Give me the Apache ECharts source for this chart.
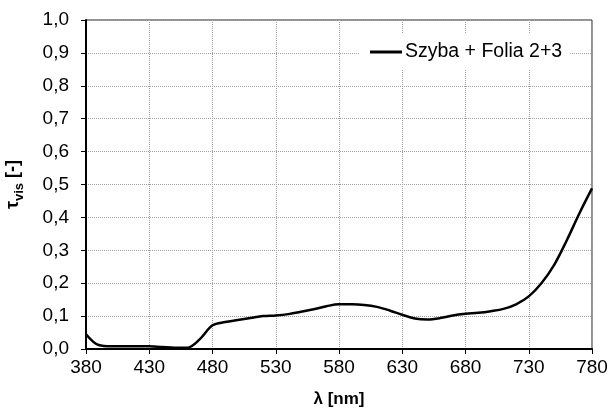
<!DOCTYPE html>
<html>
<head>
<meta charset="utf-8">
<script src="https://cdn.jsdelivr.net/npm/echarts@6/dist/echarts.min.js"></script>
<style>
  html, body { margin: 0; padding: 0; background: #fff; }
  #chart { width: 611px; height: 408px; }
</style>
</head>
<body>
<div id="chart"></div>
<script>
// Wavelength (nm) and visible transmittance of glass + film 2+3
const wavelengths = [380, 390, 400, 410, 420, 430, 440, 450, 460, 470,
                     480, 490, 500, 510, 520, 530, 540, 550, 560, 570,
                     580, 590, 600, 610, 620, 630, 640, 650, 660, 670,
                     680, 690, 700, 710, 720, 730, 740, 750, 760, 770, 780];
const transmittance = [0.045, 0.012, 0.008, 0.008, 0.008, 0.008, 0.006, 0.004, 0.004, 0.030,
                       0.072, 0.082, 0.088, 0.094, 0.100, 0.102, 0.106, 0.113, 0.121, 0.130,
                       0.136, 0.136, 0.134, 0.128, 0.117, 0.104, 0.093, 0.090, 0.094, 0.102,
                       0.107, 0.110, 0.115, 0.122, 0.136, 0.160, 0.200, 0.255, 0.330, 0.412, 0.488];
const seriesName = 'Szyba + Folia 2+3';
const xTicks = [380, 430, 480, 530, 580, 630, 680, 730, 780];
const yTicks = [0, 0.1, 0.2, 0.3, 0.4, 0.5, 0.6, 0.7, 0.8, 0.9, 1.0];

const FONT = "'Liberation Sans', Arial, sans-serif";
const chart = echarts.init(document.getElementById('chart'), null, { renderer: 'canvas' });

const gridLine = { show: true, lineStyle: { color: '#a0a0a0', type: [1, 1], width: 1 } };

chart.setOption({
  animation: false,
  backgroundColor: '#fff',
  grid: {
    left: 86, right: 19, top: 20, bottom: 59,
    containLabel: false,
    outerBoundsMode: 'none',
    show: true, borderColor: '#222', borderWidth: 1, backgroundColor: 'transparent'
  },
  legend: {
    data: [seriesName],
    left: 360, top: 34,
    padding: [8, 8, 8, 10],
    backgroundColor: '#fff',
    itemWidth: 32, itemHeight: 3, itemGap: 0,
    icon: 'rect',
    textStyle: { fontFamily: FONT, fontSize: 19.5, color: '#000', padding: [0, 0, 0, -2] }
  },
  xAxis: {
    type: 'value',
    min: xTicks[0], max: xTicks[xTicks.length - 1],
    interval: xTicks[1] - xTicks[0],
    name: 'λ [nm]',
    nameLocation: 'middle',
    nameGap: 42,
    nameTextStyle: { fontFamily: FONT, fontSize: 17, fontWeight: 'bold', color: '#000' },
    axisLine: { show: true, onZero: false, lineStyle: { color: '#000', width: 2 } },
    axisTick: { show: true, length: 5, lineStyle: { color: '#000', width: 1 } },
    axisLabel: { fontFamily: FONT, fontSize: 19, color: '#000', margin: 9 },
    splitLine: gridLine
  },
  yAxis: {
    type: 'value',
    min: yTicks[0], max: yTicks[yTicks.length - 1],
    interval: 0.1,
    name: '{t|τ}{s|vis}{t| [-]}',
    nameLocation: 'middle',
    nameRotate: 90,
    nameGap: 64,
    nameTextStyle: {
      rich: {
        t: { fontFamily: FONT, fontSize: 18, fontWeight: 'bold', color: '#000', verticalAlign: 'bottom', lineHeight: 20 },
        s: { fontFamily: FONT, fontSize: 13, fontWeight: 'bold', color: '#000', verticalAlign: 'bottom', lineHeight: 14, padding: [0, 0, -4, 0] }
      }
    },
    axisLine: { show: true, lineStyle: { color: '#000', width: 2 } },
    axisTick: { show: true, length: 5, lineStyle: { color: '#000', width: 1 } },
    axisLabel: {
      fontFamily: FONT, fontSize: 19, color: '#000', margin: 17,
      formatter: v => v.toFixed(1).replace('.', ',')
    },
    splitLine: gridLine
  },
  series: [{
    name: seriesName,
    type: 'line',
    data: wavelengths.map((w, i) => [w, transmittance[i]]),
    smooth: 0.35,
    showSymbol: false,
    symbol: 'none',
    color: '#000',
    lineStyle: { color: '#000', width: 2.5 }
  }]
});
</script>
</body>
</html>
